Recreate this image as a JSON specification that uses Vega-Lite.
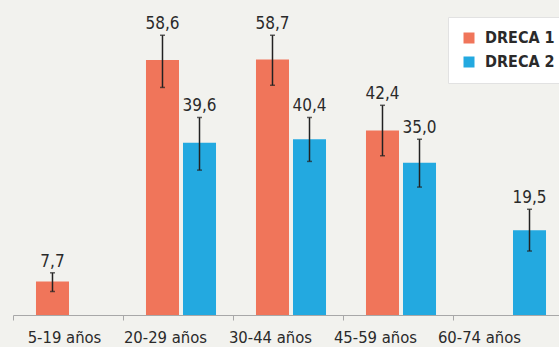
{
  "$schema": "https://vega.github.io/schema/vega-lite/v6.json",
  "width": 550,
  "height": 315,
  "autosize": {"type": "none"},
  "padding": {"left": 13, "top": 0, "right": 0, "bottom": 32},
  "background": "#f2f2ee",
  "config": {
    "view": {"stroke": null},
    "font": "DejaVu Sans Condensed"
  },
  "data": {
    "values": [
      {"grupo": "5-19 años", "serie": "DRECA 1", "valor": 7.7, "lo": 5.4, "hi": 9.7, "etiqueta": "7,7"},
      {"grupo": "20-29 años", "serie": "DRECA 1", "valor": 58.6, "lo": 52.3, "hi": 64.3, "etiqueta": "58,6"},
      {"grupo": "20-29 años", "serie": "DRECA 2", "valor": 39.6, "lo": 33.3, "hi": 45.4, "etiqueta": "39,6"},
      {"grupo": "30-44 años", "serie": "DRECA 1", "valor": 58.7, "lo": 52.8, "hi": 64.3, "etiqueta": "58,7"},
      {"grupo": "30-44 años", "serie": "DRECA 2", "valor": 40.4, "lo": 35.3, "hi": 45.4, "etiqueta": "40,4"},
      {"grupo": "45-59 años", "serie": "DRECA 1", "valor": 42.4, "lo": 36.6, "hi": 48.2, "etiqueta": "42,4"},
      {"grupo": "45-59 años", "serie": "DRECA 2", "valor": 35.0, "lo": 29.4, "hi": 40.4, "etiqueta": "35,0"},
      {"grupo": "60-74 años", "serie": "DRECA 2", "valor": 19.5, "lo": 14.7, "hi": 24.3, "etiqueta": "19,5"}
    ]
  },
  "encoding": {
    "x": {
      "field": "grupo",
      "type": "nominal",
      "sort": ["5-19 años", "20-29 años", "30-44 años", "45-59 años", "60-74 años"],
      "scale": {"paddingInner": 0, "paddingOuter": 0},
      "axis": {
        "title": null,
        "labelAngle": 0,
        "tickBand": "extent",
        "domainColor": "#a8a8a8",
        "tickColor": "#a8a8a8",
        "tickSize": 5,
        "labelFontSize": 16.5,
        "labelColor": "#2a2a2a",
        "labelPadding": 9,
        "labelOffset": {
          "condition": [
            {"test": "datum.value === '5-19 años'", "value": -4},
            {"test": "datum.value === '20-29 años'", "value": -13},
            {"test": "datum.value === '30-44 años'", "value": -18},
            {"test": "datum.value === '45-59 años'", "value": -23}
          ],
          "value": -29
        }
      }
    },
    "xOffset": {
      "field": "serie",
      "type": "nominal",
      "scale": {"domain": ["DRECA 1", "DRECA 2"], "paddingInner": 0.108, "paddingOuter": 0.54, "align": 0.575}
    }
  },
  "layer": [
    {
      "mark": {"type": "bar"},
      "encoding": {
        "y": {"field": "valor", "type": "quantitative", "scale": {"domain": [0, 72.4], "nice": false}, "axis": null},
        "color": {
          "field": "serie",
          "type": "nominal",
          "scale": {"domain": ["DRECA 1", "DRECA 2"], "range": ["#f0755a", "#23a9e0"]},
          "legend": {
            "title": null,
            "orient": "none",
            "legendX": 435,
            "legendY": 17,
            "fillColor": "#ffffff",
            "strokeColor": "#e2e2e2",
            "padding": 13,
            "symbolType": "square",
            "symbolSize": 121,
            "symbolStrokeWidth": 0,
            "labelFontSize": 16,
            "labelFontWeight": "bold",
            "labelColor": "#2a2a2a",
            "rowPadding": 8,
            "symbolOffset": 0,
            "labelOffset": 8
          }
        }
      }
    },
    {
      "mark": {"type": "rule", "color": "#222222", "strokeWidth": 1.5},
      "encoding": {
        "y": {"field": "lo", "type": "quantitative"},
        "y2": {"field": "hi"}
      }
    },
    {
      "mark": {"type": "tick", "color": "#222222", "thickness": 1.5, "size": 5},
      "encoding": {"y": {"field": "lo", "type": "quantitative"}}
    },
    {
      "mark": {"type": "tick", "color": "#222222", "thickness": 1.5, "size": 5},
      "encoding": {"y": {"field": "hi", "type": "quantitative"}}
    },
    {
      "mark": {"type": "text", "fontSize": 17, "color": "#2a2a2a", "baseline": "alphabetic", "dy": -6},
      "encoding": {
        "y": {"field": "hi", "type": "quantitative"},
        "text": {"field": "etiqueta"}
      }
    }
  ]
}
